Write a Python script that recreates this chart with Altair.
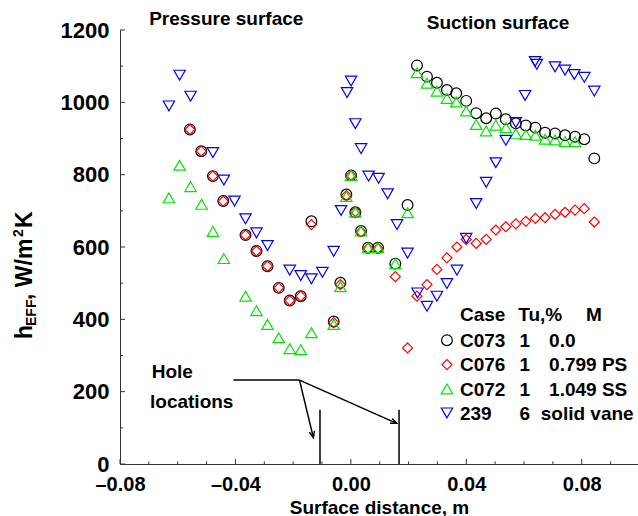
import altair as alt
import pandas as pd

# ---------------- data ----------------
c073_x = [-0.05578, -0.05183, -0.04782, -0.04422, -0.03651, -0.03270, -0.02889, -0.02498, -0.02118, -0.01737,
          -0.01367, -0.00595, -0.00363, -0.00156, 0.00007, 0.00156, 0.00353, 0.00595, 0.00941, 0.01540,
          0.01965, 0.02291, 0.02637, 0.02983, 0.03329, 0.03651, 0.03997, 0.04343, 0.04689, 0.05024,
          0.05370, 0.05716, 0.06062, 0.06394, 0.06730, 0.07076, 0.07422, 0.07768, 0.08090, 0.08436]
c073_y = [925, 865, 796, 727, 633, 589, 547, 487, 452, 464,
          671, 394, 501, 745, 798, 696, 644, 598, 598, 554,
          716, 1102, 1071, 1054, 1034, 1025, 1004, 970, 956, 969,
          953, 942, 936, 930, 916, 914, 909, 905, 898, 845]

c076_x = [-0.05578, -0.05183, -0.04782, -0.04422, -0.03651, -0.03270, -0.02889, -0.02498, -0.02118, -0.01737,
          -0.01367, -0.00595, -0.00363, -0.00156, 0.00007, 0.00156, 0.00353, 0.00595, 0.00941, 0.01540,
          0.01965, 0.02291, 0.02637, 0.02983, 0.03329, 0.03675, 0.03997, 0.04343, 0.04689, 0.05024,
          0.05370, 0.05716, 0.06062, 0.06394, 0.06730, 0.07076, 0.07422, 0.07768, 0.08090, 0.08436]
c076_y = [925, 865, 796, 727, 633, 589, 547, 487, 452, 464,
          662, 391, 496, 742, 798, 698, 642, 596, 596, 518,
          321, 464, 496, 538, 570, 600, 621, 610, 621, 647,
          656, 664, 671, 679, 681, 690, 696, 702, 706, 669]

c072_x = [-0.06304, -0.05934, -0.05554, -0.05173, -0.04782, -0.04401, -0.03651, -0.03270, -0.02889, -0.02498,
          -0.02118, -0.01737, -0.01367, -0.00595, -0.00363, -0.00156, 0.00007, 0.00156, 0.00353, 0.00595,
          0.00941, 0.01540, 0.01965, 0.02291, 0.02637, 0.02983, 0.03329, 0.03651, 0.03997, 0.04343,
          0.04689, 0.05024, 0.05370, 0.05716, 0.06062, 0.06394, 0.06730, 0.07076, 0.07422, 0.07768]
c072_y = [736, 826, 767, 718, 643, 568, 464, 424, 386, 349,
          319, 316, 363, 386, 490, 740, 798, 696, 644, 598,
          598, 554, 695, 1082, 1053, 1031, 1011, 1001, 976, 939,
          921, 937, 930, 913, 911, 909, 898, 896, 891, 891]

s239_x = [-0.06304, -0.05934, -0.05554, -0.04782, -0.04401, -0.04031, -0.03651, -0.03270, -0.02889, -0.02118,
          -0.01737, -0.01367, -0.00986, -0.00595, -0.00339, -0.00131, 0.00007, 0.00156, 0.00353, 0.00616,
          0.00962, 0.01273, 0.01599, 0.01965, 0.02311, 0.02637, 0.02983, 0.03329, 0.03675, 0.03997,
          0.04343, 0.04689, 0.05024, 0.05370, 0.05716, 0.06038, 0.06384, 0.06443, 0.07076, 0.07422,
          0.07744, 0.08090, 0.08436]
s239_y = [990, 1075, 1017, 861, 785, 727, 678, 639, 604, 536,
          521, 512, 530, 588, 701, 1027, 1059, 941, 872, 796,
          790, 747, 662, 583, 473, 436, 464, 499, 536, 624,
          720, 779, 833, 895, 944, 1019, 1113, 1105, 1098, 1089,
          1077, 1069, 1031]

x_major = [-0.08, -0.04, 0.0, 0.04, 0.08]
x_minor = [-0.07, -0.06, -0.05, -0.03, -0.02, -0.01, 0.01, 0.02, 0.03, 0.05, 0.06, 0.07, 0.09]
y_major = [0, 200, 400, 600, 800, 1000, 1200]
y_minor = [100, 300, 500, 700, 900, 1100]

hole_x = [-0.0107, 0.0167]

legend_case = ["C073", "C076", "C072", "239"]
legend_tu = ["1", "1", "1", "6"]
legend_m = ["0.0", "0.799 PS", "1.049 SS", "solid vane"]

# ---------------- styling constants ----------------
FONT = "Liberation Sans"
FS = 19
XMIN, XMAX = -0.08, 0.0995
YMIN, YMAX = 0, 1200
W, H = 518, 434
PX_X = W / (XMAX - XMIN)   # px per x unit
PX_Y = H / (YMAX - YMIN)   # px per y unit

xs = alt.Scale(domain=[XMIN, XMAX], nice=False, zero=False)
ys = alt.Scale(domain=[YMIN, YMAX], nice=False)

xaxis = alt.Axis(values=x_major, tickSize=0, grid=False, labelPadding=10, labelFontSize=20,
                 labelExpr="datum.value < 0 ? '\u2013' + format(-datum.value, '.2f') : format(datum.value, '.2f')",
                 title="Surface distance, m", titlePadding=4, labelFlush=False)
yaxis = alt.Axis(values=y_major, tickSize=0, grid=False, labelPadding=11, labelFontSize=22,
                 format="d", title=None)

X = alt.X("x:Q", scale=xs, axis=xaxis)
Y = alt.Y("y:Q", scale=ys, axis=yaxis)


def series(xv, yv, shape, color, size):
    df = pd.DataFrame({"x": xv, "y": yv})
    return alt.Chart(df).mark_point(shape=shape, filled=False, color=color, size=size,
                                    strokeWidth=1.2, opacity=1).encode(x=X, y=Y)


GREEN = "#00e600"
S_CIRC, S_DIAM, S_TRI = 115, 100, 130
layers = [
    series(c073_x, c073_y, "circle", "black", S_CIRC),
    series(c076_x, c076_y, "diamond", "#ff0000", S_DIAM),
    series(c072_x, c072_y, "triangle-up", GREEN, S_TRI),
    series(s239_x, s239_y, "triangle-down", "#0000ff", S_TRI),
]

# inward ticks
tick_rows = []
for v in x_major:
    tick_rows.append({"x": v, "x2": v, "y": 0, "y2": 5 / PX_Y})
for v in x_minor:
    tick_rows.append({"x": v, "x2": v, "y": 0, "y2": 2.6 / PX_Y})
for v in y_major:
    tick_rows.append({"x": XMIN, "x2": XMIN + 5 / PX_X, "y": v, "y2": v})
for v in y_minor:
    tick_rows.append({"x": XMIN, "x2": XMIN + 3 / PX_X, "y": v, "y2": v})
ticks = alt.Chart(pd.DataFrame(tick_rows)).mark_rule(color="#333333", strokeWidth=1).encode(
    x=X, x2="x2:Q", y=Y, y2="y2:Q")

# hole-location annotation lines
line_rows = [
    {"x": hole_x[0], "x2": hole_x[0], "y": 0, "y2": 150},
    {"x": hole_x[1], "x2": hole_x[1], "y": 0, "y2": 150},
    {"x": -0.0407, "x2": -0.0178, "y": 232, "y2": 232},
    {"x": -0.0178, "x2": -0.0130, "y": 232, "y2": 73},
    {"x": -0.0178, "x2": 0.0159, "y": 232, "y2": 112.5},
]
lines = alt.Chart(pd.DataFrame(line_rows)).mark_rule(color="black", strokeWidth=1.5).encode(
    x=X, x2="x2:Q", y=Y, y2="y2:Q")

heads = alt.Chart(pd.DataFrame({"x": [-0.0130, 0.0159], "y": [73, 112.5], "a": [346.8, 294.2]})).mark_point(
    shape="M-0.55,-1.3L0,0L0.55,-1.3", filled=False, color="black", strokeWidth=1.5, size=90, opacity=1
).encode(x=X, y=Y, angle=alt.Angle("a:Q", scale=None))


def text(df, align="left", baseline="alphabetic", size=FS):
    return alt.Chart(pd.DataFrame(df)).mark_text(
        align=align, baseline=baseline, font=FONT, fontWeight="bold", fontSize=size, color="black"
    ).encode(x=X, y=Y, text="t:N")


labels = text({"x": [-0.0699, 0.0263, -0.0690, -0.0696],
               "y": [1213, 1202, 238, 155],
               "t": ["Pressure surface", "Suction surface", "Hole", "locations"]})

# legend block
row_base = [323.9, 256.4, 189.1, 122.6]
row_mid = [342.4, 274.9, 207.6, 141.2]
leg_head = text({"x": [0.0378, 0.0580, 0.0815], "y": [394.7] * 3, "t": ["Case", "Tu,%", "M"]})
leg_case = text({"x": [0.0378] * 4, "y": row_base, "t": legend_case})
leg_tu = text({"x": [0.0603] * 4, "y": row_base, "t": legend_tu}, align="center")
leg_m = text({"x": [0.0687, 0.0687, 0.0687, 0.0658], "y": row_base, "t": legend_m})
leg_sym = [
    alt.Chart(pd.DataFrame({"x": [0.0333], "y": [row_mid[0]]})).mark_point(
        shape="circle", filled=False, color="black", size=S_CIRC, strokeWidth=1.2, opacity=1).encode(x=X, y=Y),
    alt.Chart(pd.DataFrame({"x": [0.0333], "y": [row_mid[1]]})).mark_point(
        shape="diamond", filled=False, color="#ff0000", size=S_DIAM, strokeWidth=1.2, opacity=1).encode(x=X, y=Y),
    alt.Chart(pd.DataFrame({"x": [0.0333], "y": [row_mid[2]]})).mark_point(
        shape="triangle-up", filled=False, color=GREEN, size=S_TRI, strokeWidth=1.2, opacity=1).encode(x=X, y=Y),
    alt.Chart(pd.DataFrame({"x": [0.0333], "y": [row_mid[3]]})).mark_point(
        shape="triangle-down", filled=False, color="#0000ff", size=S_TRI, strokeWidth=1.2, opacity=1).encode(x=X, y=Y),
]

# y-axis title: h_EFF, W/m^2K (rotated); pixel positions relative to the plot's top-left
def ytitle(t, px, py, size):
    return alt.Chart(pd.DataFrame({"t": [t]})).mark_text(
        align="left", baseline="alphabetic", angle=270, font=FONT, fontWeight="bold",
        fontSize=size, color="black").encode(x=alt.value(px), y=alt.value(py), text="t:N")

TOP = 30
ytitle_parts = [
    ytitle("h", -88.5, 339 - TOP, 23),
    ytitle("EFF", -84.5, 326 - TOP, 14),
    ytitle(", W/m", -88.5, 300 - TOP, 23),
    ytitle("2", -97, 237 - TOP, 14),
    ytitle("K", -88.5, 228 - TOP, 23),
]

chart = alt.layer(
    *layers, ticks, lines, heads, labels, leg_head, leg_case, leg_tu, leg_m, *leg_sym, *ytitle_parts
).properties(
    width=W, height=H,
    autosize=alt.AutoSizeParams(type="none"),
    padding={"left": 120, "top": TOP, "right": 0, "bottom": 52},
).configure(
    font=FONT,
).configure_axis(
    labelFont=FONT, labelFontSize=FS, labelFontWeight="bold", labelColor="black",
    titleFont=FONT, titleFontSize=FS, titleFontWeight="bold", titleColor="black",
    domainColor="#333333", domainWidth=1,
).configure_view(stroke=None)

chart.save("out.html", embed_options={"renderer": "svg", "actions": False})
